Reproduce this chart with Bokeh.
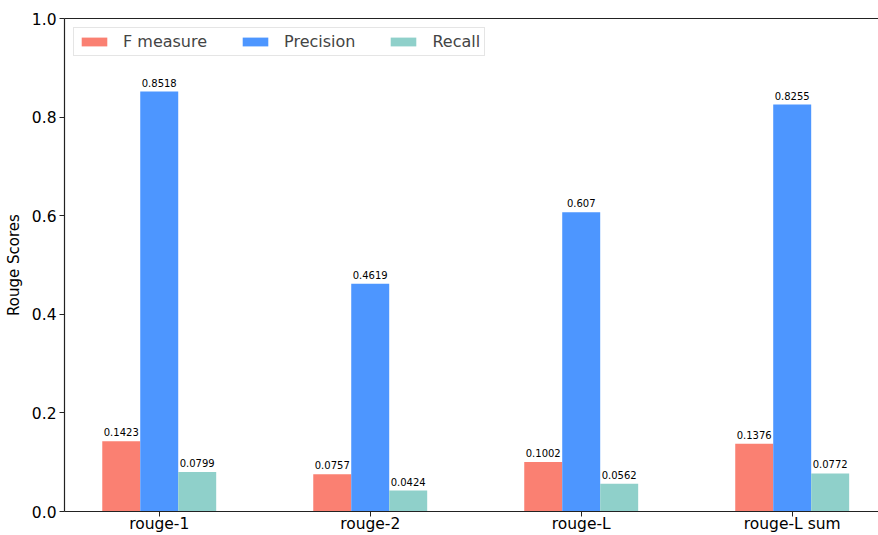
import numpy as np
from bokeh.plotting import figure
from bokeh.models import (ColumnDataSource, Range1d, FixedTicker, LinearAxis,
                          Legend, LegendItem, NumeralTickFormatter, LabelSet)
from bokeh.core.properties import value
from bokeh.embed import file_html
from bokeh.resources import INLINE

categories = ["rouge-1", "rouge-2", "rouge-L", "rouge-L sum"]
f_measure = [0.1423, 0.0757, 0.1002, 0.1376]
precision = [0.8518, 0.4619, 0.607, 0.8255]
recall = [0.0799, 0.0424, 0.0562, 0.0772]
series_names = ["F measure", "Precision", "Recall"]
colors = ["#FA8072", "#4D96FF", "#8FD0CA"]

FONT = "DejaVu Sans"
bar_w = 0.18
xs = np.arange(len(categories))

p = figure(width=878, height=535, x_range=Range1d(-0.449, 3.409), y_range=Range1d(0, 1.0),
           output_backend="svg", toolbar_location=None,
           min_border_left=64, min_border_right=0, min_border_top=18, min_border_bottom=0)
p.grid.visible = False
p.outline_line_color = None
p.background_fill_color = "white"
p.border_fill_color = "white"

items = []
for i, (name, vals, col) in enumerate(zip(series_names, [f_measure, precision, recall], colors)):
    src = ColumnDataSource(dict(x=xs + (i - 1) * bar_w, top=vals,
                                label=[str(v) for v in vals]))
    r = p.vbar(x="x", top="top", width=bar_w, source=src, fill_color=col, line_color=None)
    items.append(LegendItem(label=name, renderers=[r]))
    lbl = LabelSet(x="x", y="top", text="label", source=src, text_align="center",
                   text_baseline="bottom", y_offset=5, text_font_size="10px",
                   text_font=value(FONT), text_color="black")
    p.add_layout(lbl)

# axes
for ax in (p.xaxis[0], p.yaxis[0]):
    ax.axis_line_color = "#222222"
    ax.axis_line_width = 1.2
    ax.major_tick_line_color = "#222222"
    ax.major_tick_in = 0
    ax.major_tick_out = 5
    ax.minor_tick_line_color = None
    ax.major_label_text_font = FONT
    ax.major_label_text_font_size = "15.5px"
    ax.major_label_text_color = "black"
    ax.major_label_standoff = 3

p.xaxis.major_label_standoff = -2
p.xaxis.ticker = FixedTicker(ticks=list(range(len(categories))))
p.xaxis.major_label_overrides = {i: c for i, c in enumerate(categories)}
p.yaxis.ticker = FixedTicker(ticks=[0.0, 0.2, 0.4, 0.6, 0.8, 1.0])
p.yaxis.formatter = NumeralTickFormatter(format="0.0")
p.yaxis.axis_label = "Rouge Scores"
p.yaxis.axis_label_text_font = FONT
p.yaxis.axis_label_text_font_size = "15px"
p.yaxis.axis_label_text_font_style = "normal"
p.yaxis.axis_label_text_color = "black"
p.yaxis.axis_label_standoff = 6

top_axis = LinearAxis(ticker=FixedTicker(ticks=[]), major_tick_line_color=None,
                      minor_tick_line_color=None, axis_line_color="#222222",
                      axis_line_width=1.2, major_tick_out=0, minor_tick_out=0,
                      major_label_standoff=0)
p.add_layout(top_axis, "above")

legend = Legend(items=items, orientation="horizontal", location="top_left",
                glyph_width=32, glyph_height=11, label_standoff=13, spacing=32,
                padding=4, margin=9, label_text_font=FONT, label_text_font_size="16px",
                border_line_color="#cccccc", border_line_width=1,
                background_fill_color="white", background_fill_alpha=0.8)
p.add_layout(legend)

open("out.html", "w").write(file_html(p, INLINE))
